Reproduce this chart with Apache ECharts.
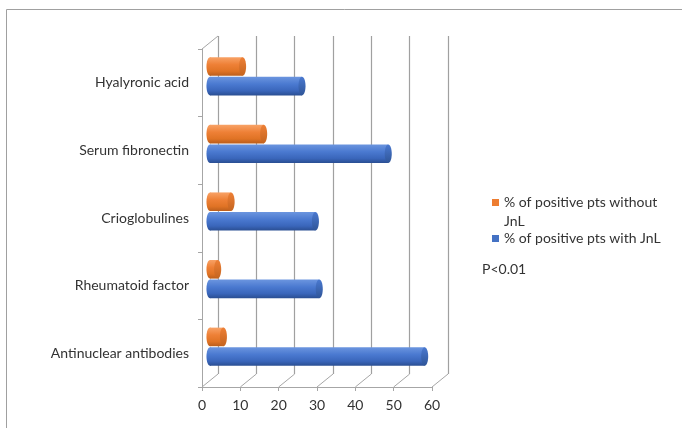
<!DOCTYPE html>
<html>
<head>
<meta charset="utf-8">
<title>Positive tests with and without JnL</title>
<script src="https://cdn.jsdelivr.net/npm/echarts@6/dist/echarts.min.js"></script>
<style>
  html, body { margin: 0; padding: 0; background: #ffffff; }
  #chart { width: 682px; height: 428px; }
</style>
</head>
<body>
<div id="chart"></div>
<script>
// Tests, listed bottom to top as they appear on the category axis
const categories = [
  'Antinuclear antibodies',
  'Rheumatoid factor',
  'Crioglobulines',
  'Serum fibronectin',
  'Hyalyronic acid'
];
// % of positive patients with JnL
const withJnL = [56, 28.5, 27.5, 46.5, 24];
// % of positive patients without JnL
const withoutJnL = [3.5, 2, 5.5, 14, 8.5];
const xTicks = [0, 10, 20, 30, 40, 50, 60];

const seriesWith = '% of positive pts with JnL';
const seriesWithout = '% of positive pts without JnL';

// Pseudo-3D layout: front plane, bar plane (middle depth) and back wall
const FRONT = { left: 202, top: 49, width: 230, height: 338 };
const DEPTH = { dx: 16, dy: 13 };
const MID = { left: FRONT.left + DEPTH.dx / 2, top: FRONT.top - DEPTH.dy / 2, width: FRONT.width, height: FRONT.height };
const BACK = { left: FRONT.left + DEPTH.dx, top: FRONT.top - DEPTH.dy, width: FRONT.width, height: FRONT.height };

const FONT = 'Lato, "Open Sans", sans-serif';
const TEXT = '#333333';
const FRAME = '#a6a6a6';

const palettes = {
  blue:   { top: '#6b95df', mid: '#4a79d0', low: '#3a66bb', bottom: '#2a4e92', cap: '#2f5598' },
  orange: { top: '#f8a266', mid: '#ee8036', low: '#e07325', bottom: '#bb5e1c', cap: '#c4641f' }
};

function bodyGradient(p) {
  return new echarts.graphic.LinearGradient(0, 0, 0, 1, [
    { offset: 0, color: p.top },
    { offset: 0.4, color: p.mid },
    { offset: 0.75, color: p.low },
    { offset: 1, color: p.bottom }
  ]);
}

// Horizontal cylinder; side = -1 for the upper bar of a pair, +1 for the lower one
function cylinder(p, side) {
  return function (params, api) {
    const cat = api.value(0);
    const val = api.value(1);
    const band = api.size([0, 1])[1];
    const h = band * 0.275;
    const gap = 1;
    const c0 = api.coord([0, cat]);
    const c1 = api.coord([val, cat]);
    const cy = c0[1] + side * (h / 2 + gap / 2);
    const rx = h * 0.19;
    const grad = bodyGradient(p);
    return {
      type: 'group',
      children: [
        { type: 'ellipse', shape: { cx: c0[0], cy: cy, rx: rx, ry: h / 2 }, style: { fill: grad } },
        { type: 'rect', shape: { x: c0[0], y: cy - h / 2, width: Math.max(c1[0] - c0[0], 0), height: h }, style: { fill: grad } },
        { type: 'ellipse', shape: { cx: c1[0], cy: cy, rx: rx, ry: h / 2 },
          style: { fill: new echarts.graphic.LinearGradient(0, 0, 0, 1, [
            { offset: 0, color: p.mid }, { offset: 1, color: p.cap }
          ]) } }
      ]
    };
  };
}

// Floor depth lines from each front tick back to the wall, plus the top-left edge
function floorEdges(params, api) {
  const v = api.value(0);
  const cs = params.coordSys;
  const x = api.coord([v, 0])[0];
  const yb = cs.y + cs.height;
  const style = { stroke: FRAME, lineWidth: 1 };
  const children = [
    { type: 'line', shape: { x1: x, y1: yb, x2: x + DEPTH.dx, y2: yb - DEPTH.dy }, style: style }
  ];
  if (v === xTicks[0]) {
    children.push({ type: 'line', shape: { x1: x, y1: cs.y, x2: x + DEPTH.dx, y2: cs.y - DEPTH.dy }, style: style });
  }
  return { type: 'group', children: children };
}

const chart = echarts.init(document.getElementById('chart'), null, { renderer: 'canvas' });

const legendText = { fontFamily: FONT, fontSize: 14, color: TEXT, lineHeight: 19 };

chart.setOption({
  backgroundColor: '#ffffff',
  animation: false,
  textStyle: { fontFamily: FONT },
  graphic: [
    { type: 'rect', silent: true, z: -10,
      shape: { x: 6.5, y: 9.5, width: 720, height: 460 },
      style: { fill: 'none', stroke: '#a0a0a0', lineWidth: 1 } }
  ],
  title: {
    text: 'P<0.01',
    left: 482, top: 262,
    padding: 0,
    textStyle: { fontFamily: FONT, fontSize: 14, fontWeight: 'normal', color: TEXT }
  },
  legend: [
    {
      data: [seriesWithout],
      orient: 'vertical',
      left: 492, top: 174,
      padding: 0,
      icon: 'rect', itemWidth: 7, itemHeight: 7,
      // blank first line keeps the marker level with the first text line
      formatter: function () { return ' \n% of positive pts without\nJnL'; },
      textStyle: legendText
    },
    {
      data: [seriesWith],
      orient: 'vertical',
      left: 492, top: 229,
      padding: 0,
      icon: 'rect', itemWidth: 7, itemHeight: 7,
      textStyle: legendText
    }
  ],
  grid: [
    Object.assign({ containLabel: false }, FRONT),
    Object.assign({ containLabel: false }, BACK),
    Object.assign({ containLabel: false }, MID)
  ],
  xAxis: [
    { gridIndex: 0, type: 'value', min: 0, max: 60, interval: 10,
      axisLine: { show: true, lineStyle: { color: FRAME } },
      axisTick: { show: true, length: 4, lineStyle: { color: FRAME } },
      splitLine: { show: false },
      axisLabel: { color: TEXT, fontSize: 14, fontFamily: FONT, margin: 11 } },
    { gridIndex: 1, type: 'value', min: 0, max: 60, interval: 10,
      axisLine: { show: false }, axisTick: { show: false }, axisLabel: { show: false },
      splitLine: { show: true, lineStyle: { color: '#a0a0a0', width: 1.2 } } },
    { gridIndex: 2, type: 'value', min: 0, max: 60, interval: 10, show: false }
  ],
  yAxis: [
    { gridIndex: 0, type: 'category', data: categories,
      axisLine: { show: true, lineStyle: { color: FRAME } },
      axisTick: { show: true, length: 4, lineStyle: { color: FRAME } },
      axisLabel: { color: TEXT, fontSize: 14, fontFamily: FONT, margin: 13 } },
    { gridIndex: 1, type: 'category', data: categories, show: false },
    { gridIndex: 2, type: 'category', data: categories, show: false }
  ],
  series: [
    { type: 'custom', name: 'floor', xAxisIndex: 0, yAxisIndex: 0, silent: true, z: 1,
      data: xTicks.map(function (t) { return [t]; }),
      encode: { x: 0 },
      renderItem: floorEdges },
    { type: 'custom', name: seriesWith, xAxisIndex: 2, yAxisIndex: 2, z: 3,
      itemStyle: { color: '#4472c4' },
      data: categories.map(function (c, i) { return [i, withJnL[i]]; }),
      encode: { y: 0, x: 1 },
      renderItem: cylinder(palettes.blue, 1) },
    { type: 'custom', name: seriesWithout, xAxisIndex: 2, yAxisIndex: 2, z: 3,
      itemStyle: { color: '#ed7d31' },
      data: categories.map(function (c, i) { return [i, withoutJnL[i]]; }),
      encode: { y: 0, x: 1 },
      renderItem: cylinder(palettes.orange, -1) }
  ]
});
</script>
</body>
</html>
